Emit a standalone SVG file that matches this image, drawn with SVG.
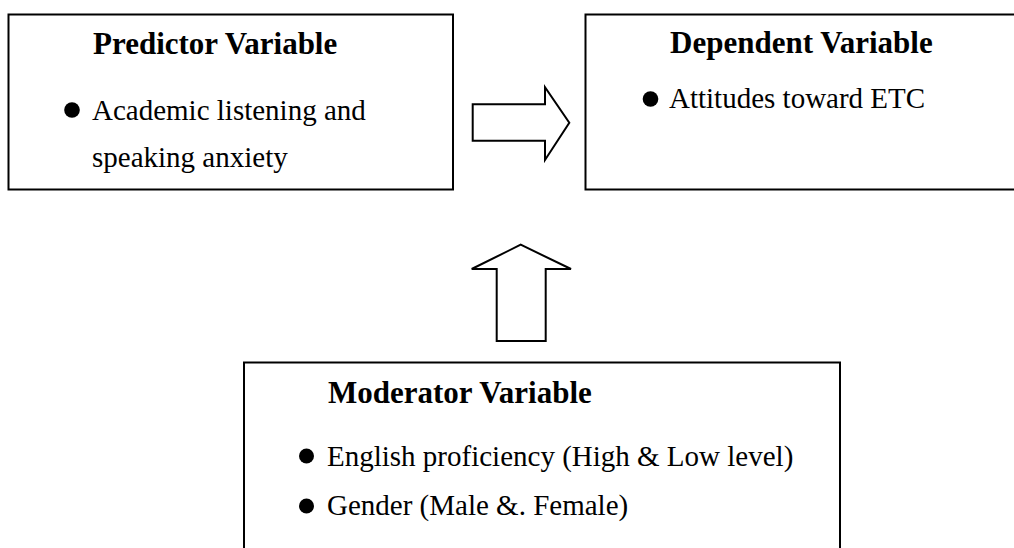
<svg xmlns="http://www.w3.org/2000/svg" width="1014" height="548" viewBox="0 0 1014 548">
<style>
.box{fill:#fff;stroke:#000;stroke-width:2}
.arrow{fill:#fff;stroke:#000;stroke-width:2;stroke-linejoin:miter}
.h{font-family:"Liberation Serif","Times New Roman",serif;font-weight:bold;font-size:31px;fill:#000}
.t{font-family:"Liberation Serif","Times New Roman",serif;font-size:29px;fill:#000}
.dot{fill:#000}
</style>
<rect width="1014" height="548" fill="#fff"/>
<g id="predictor">
<rect class="box" x="8.5" y="14.5" width="444.5" height="175"/>
<text class="h" x="93" y="54">Predictor Variable</text>
<circle class="dot" cx="72" cy="110" r="7.8"/>
<text class="t" x="92" y="120">Academic listening and</text>
<text class="t" x="92" y="167">speaking anxiety</text>
</g>
<g id="dependent">
<rect class="box" x="585.5" y="14.5" width="440" height="175"/>
<text class="h" x="670" y="53">Dependent Variable</text>
<circle class="dot" cx="650.5" cy="99" r="7.8"/>
<text class="t" x="669" y="108">Attitudes toward ETC</text>
</g>
<g id="moderator">
<rect class="box" x="244" y="362.5" width="596" height="200"/>
<text class="h" x="328" y="403">Moderator Variable</text>
<circle class="dot" cx="306.5" cy="456" r="7.5"/>
<text class="t" x="327" y="466">English proficiency (High &amp; Low level)</text>
<circle class="dot" cx="306.5" cy="506" r="7.5"/>
<text class="t" x="327" y="515">Gender (Male &amp;. Female)</text>
</g>
<g id="connectors">
<polygon class="arrow" points="472.7,104.3 545,104.3 545,87.3 569.3,122.7 545,160 545,140.7 472.7,140.7"/>
<polygon class="arrow" points="520.7,244.7 571,269 545.7,269 545.7,341 496.7,341 496.7,269 471.7,269"/>
</g>
</svg>
